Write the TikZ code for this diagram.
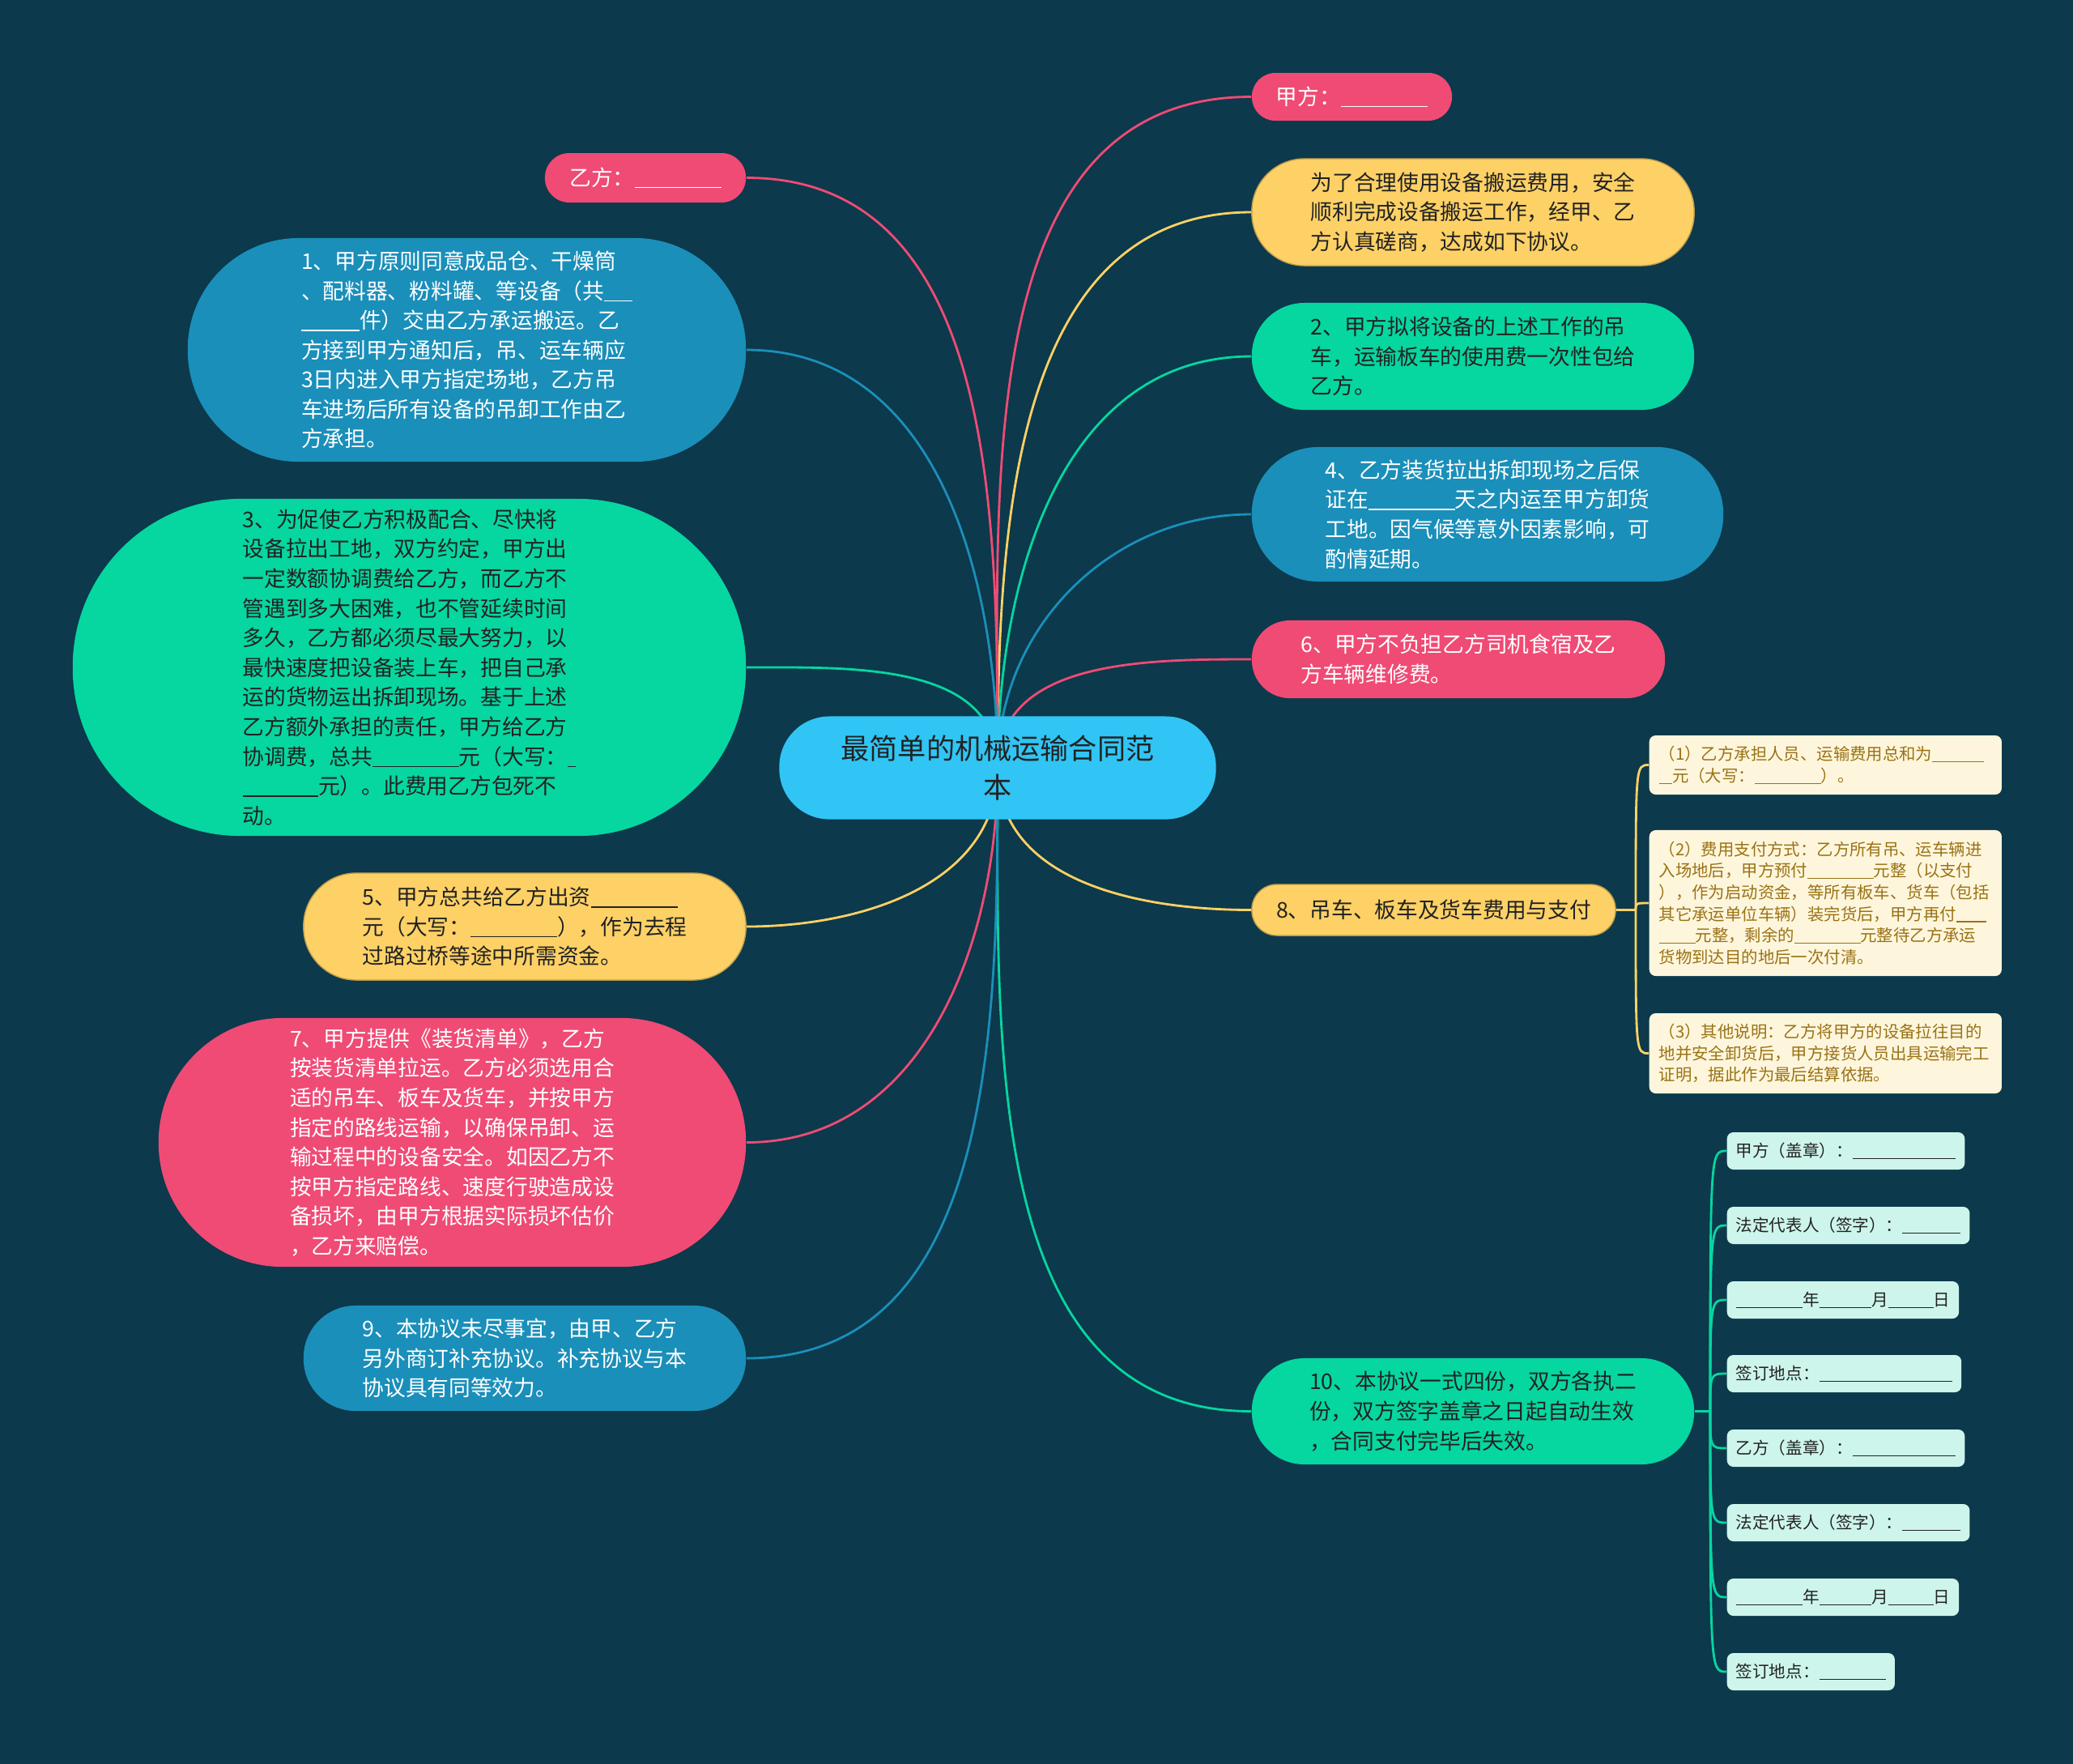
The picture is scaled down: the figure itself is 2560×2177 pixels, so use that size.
\documentclass[tikz,border=0pt]{standalone}
\usepackage{fontspec}
\setmainfont{Noto Sans CJK SC}
\definecolor{bgc}{HTML}{0C394B}
\definecolor{pinkc}{HTML}{EF4B75}
\definecolor{yellowc}{HTML}{FDD166}
\definecolor{greenc}{HTML}{06D6A0}
\definecolor{bluec}{HTML}{1A8FBA}
\definecolor{rootc}{HTML}{30C5F4}
\definecolor{creamc}{HTML}{FEF6DC}
\definecolor{goldc}{HTML}{9A7215}
\definecolor{mintc}{HTML}{CDF5EB}
\definecolor{darkc}{HTML}{222222}
\newcommand{\fillin}[1]{\rule[-0.12em]{#1em}{0.06em}}
\pgfdeclarelayer{bg}
\pgfsetlayers{bg,main}
\tikzset{
  topic/.style={align=left, inner sep=0pt, font=\fontsize{7.6}{10.4}\selectfont},
  pill/.style n args={3}{minimum width=#1cm, minimum height=#2cm, rounded corners=#3cm},
  pinknode/.style={fill=pinkc, text=white},
  bluenode/.style={fill=bluec, text=white},
  greennode/.style={fill=greenc, text=darkc},
  yellownode/.style={fill=yellowc, draw=yellowc!75!black, line width=0.4pt, text=darkc},
  paybox/.style={anchor=west, fill=creamc, text=goldc, rounded corners=0.08cm, align=left,
    inner xsep=0.12cm, inner ysep=0.1cm, text width=4.11cm, font=\fontsize{5.8}{7.6}\selectfont},
  signbox/.style={anchor=west, fill=mintc, text=darkc, rounded corners=0.08cm,
    inner xsep=0.11cm, inner ysep=0pt, minimum height=0.46cm, font=\fontsize{5.85}{7.6}\selectfont},
  link/.style={line width=0.8pt}
}

\begin{document}
\begin{tikzpicture}[x=0.01cm, y=-0.01cm]
  \useasboundingbox (0,0) rectangle (2560,2177);

  % centre
  \node[align=center, inner sep=0pt, pill={5.39}{1.27}{0.62}, fill=rootc, text=darkc,
    font=\fontsize{10}{13.7}\selectfont] (root) at (1232,948) {最简单的机械运输合同范\\本};

  % right side
  \node[topic, pill={2.47}{0.59}{0.29}, pinknode] (jia) at (1669.5,119.5) {甲方：\fillin{4}};
  \node[topic, pill={5.46}{1.32}{0.65}, yellownode] (intro) at (1819,262)
    {为了合理使用设备搬运费用，安全\\顺利完成设备搬运工作，经甲、乙\\方认真磋商，达成如下协议。};
  \node[topic, pill={5.46}{1.32}{0.65}, greennode] (item2) at (1819,440)
    {2、甲方拟将设备的上述工作的吊\\车，运输板车的使用费一次性包给\\乙方。};
  \node[topic, pill={5.82}{1.66}{0.82}, bluenode] (item4) at (1837,635)
    {4、乙方装货拉出拆卸现场之后保\\证在\fillin{4}天之内运至甲方卸货\\工地。因气候等意外因素影响，可\\酌情延期。};
  \node[topic, pill={5.10}{0.96}{0.47}, pinknode] (item6) at (1801,814)
    {6、甲方不负担乙方司机食宿及乙\\方车辆维修费。};
  \node[topic, pill={4.49}{0.63}{0.31}, yellownode] (item8) at (1770.5,1123.5)
    {8、吊车、板车及货车费用与支付};
  \node[topic, pill={5.46}{1.31}{0.65}, greennode] (item10) at (1819,1742.5)
    {10、本协议一式四份，双方各执二\\份，双方签字盖章之日起自动生效\\，合同支付完毕后失效。};

  % left side
  \node[topic, pill={2.48}{0.61}{0.30}, pinknode] (yi) at (797,219.5) {乙方：\fillin{4}};
  \node[topic, pill={6.89}{2.76}{1.37}, bluenode] (item1) at (576.5,432)
    {1、甲方原则同意成品仓、干燥筒\\、配料器、粉料罐、等设备（共\fillin{1.3}\\\fillin{2.7}件）交由乙方承运搬运。乙\\方接到甲方通知后，吊、运车辆应\\3日内进入甲方指定场地，乙方吊\\车进场后所有设备的吊卸工作由乙\\方承担。};
  \node[topic, pill={8.31}{4.16}{2.07}, greennode] (item3) at (505.5,824)
    {3、为促使乙方积极配合、尽快将\\设备拉出工地，双方约定，甲方出\\一定数额协调费给乙方，而乙方不\\管遇到多大困难，也不管延续时间\\多久，乙方都必须尽最大努力，以\\最快速度把设备装上车，把自己承\\运的货物运出拆卸现场。基于上述\\乙方额外承担的责任，甲方给乙方\\协调费，总共\fillin{4}元（大写：\fillin{0.4}\\\fillin{3.5}元）。此费用乙方包死不\\动。};
  \node[topic, pill={5.46}{1.32}{0.65}, yellownode] (item5) at (648,1144)
    {5、甲方总共给乙方出资\fillin{4}\\元（大写：\fillin{4}），作为去程\\过路过桥等途中所需资金。};
  \node[topic, pill={7.25}{3.07}{1.53}, pinknode] (item7) at (558.5,1410.5)
    {7、甲方提供《装货清单》，乙方\\按装货清单拉运。乙方必须选用合\\适的吊车、板车及货车，并按甲方\\指定的路线运输，以确保吊卸、运\\输过程中的设备安全。如因乙方不\\按甲方指定路线、速度行驶造成设\\备损坏，由甲方根据实际损坏估价\\，乙方来赔偿。};
  \node[topic, pill={5.46}{1.30}{0.64}, bluenode] (item9) at (648,1677)
    {9、本协议未尽事宜，由甲、乙方\\另外商订补充协议。补充协议与本\\协议具有同等效力。};

  % payment details
  \node[paybox, minimum height=0.73cm] (pay1) at (2036,944.5)
    {（1）乙方承担人员、运输费用总和为\fillin{3.1}\\\fillin{0.8}元（大写：\fillin{4}）。};
  \node[paybox, minimum height=1.80cm] (pay2) at (2036,1115)
    {（2）费用支付方式：乙方所有吊、运车辆进\\入场地后，甲方预付\fillin{4}元整（以支付\\），作为启动资金，等所有板车、货车（包括\\其它承运单位车辆）装完货后，甲方再付\fillin{1.8}\\\fillin{2.2}元整，剩余的\fillin{4}元整待乙方承运\\货物到达目的地后一次付清。};
  \node[paybox, minimum height=0.99cm] (pay3) at (2036,1300.5)
    {（3）其他说明：乙方将甲方的设备拉往目的\\地并安全卸货后，甲方接货人员出具运输完工\\证明，据此作为最后结算依据。};

  % signatures
  \node[signbox] (sig1) at (2132,1421) {甲方（盖章）：\fillin{6.2}};
  \node[signbox] (sig2) at (2132,1513) {法定代表人（签字）：\fillin{3.5}};
  \node[signbox] (sig3) at (2132,1605) {\fillin{4}年\fillin{3.15}月\fillin{2.7}日};
  \node[signbox] (sig4) at (2132,1696) {签订地点：\fillin{8}};
  \node[signbox] (sig5) at (2132,1788) {乙方（盖章）：\fillin{6.2}};
  \node[signbox] (sig6) at (2132,1880) {法定代表人（签字）：\fillin{3.5}};
  \node[signbox] (sig7) at (2132,1972) {\fillin{4}年\fillin{3.15}月\fillin{2.7}日};
  \node[signbox] (sig8) at (2132,2064) {签订地点：\fillin{4}};

  \coordinate (j8) at (2020,1123.5);
  \coordinate (j10) at (2112,1742.5);

  \begin{pgfonlayer}{bg}
    \fill[bgc] (-10,-10) rectangle (2570,2187);
    \foreach \n/\c in {jia/pinkc, intro/yellowc, item2/greenc, item4/bluec, item6/pinkc}
      \draw[link, draw=\c] (root.center) to[out=90, in=180] (\n.west);
    \foreach \n/\c in {item8/yellowc, item10/greenc}
      \draw[link, draw=\c] (root.center) to[out=-90, in=180] (\n.west);
    \foreach \n/\c in {yi/pinkc, item1/bluec, item3/greenc}
      \draw[link, draw=\c] (root.center) to[out=90, in=0] (\n.east);
    \foreach \n/\c in {item5/yellowc, item7/pinkc, item9/bluec}
      \draw[link, draw=\c] (root.center) to[out=-90, in=0] (\n.east);
    \draw[link, draw=yellowc] (item8.east) -- (j8);
    \foreach \p in {pay1,pay2,pay3}
      \draw[link, draw=yellowc] (j8) .. controls (j8 |- \p.west) .. (\p.west);
    \draw[link, draw=greenc] (item10.east) -- (j10);
    \foreach \s in {sig1,sig2,sig3,sig4,sig5,sig6,sig7,sig8}
      \draw[link, draw=greenc] (j10) .. controls (j10 |- \s.west) .. (\s.west);
  \end{pgfonlayer}
\end{tikzpicture}
\end{document}
